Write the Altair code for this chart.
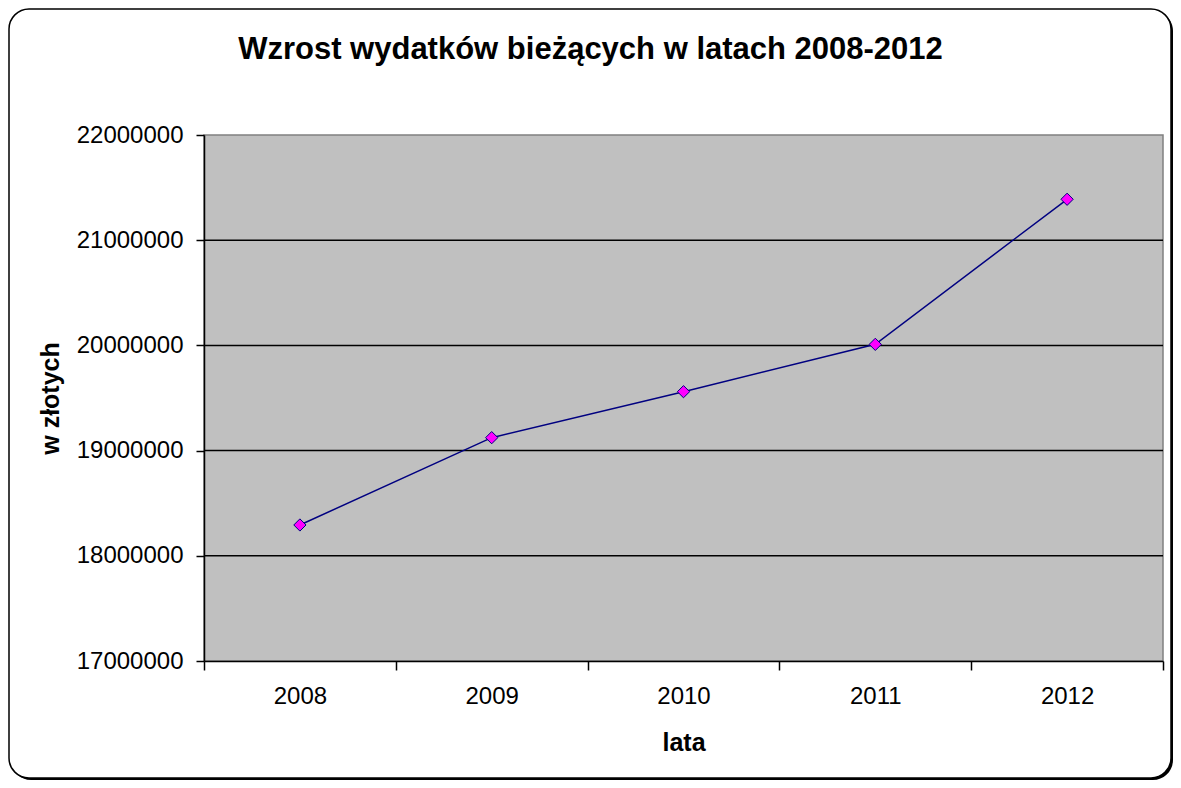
import altair as alt
import pandas as pd

years = ["2008", "2009", "2010", "2011", "2012"]
values = [18293000, 19123000, 19560000, 20010000, 21389000]
y_ticks = [17000000, 18000000, 19000000, 20000000, 21000000, 22000000]
grid_values = [18000000, 19000000, 20000000, 21000000]

title_text = "Wzrost wydatków bieżących w latach 2008-2012"
x_title = "lata"
y_title = "w złotych"

W, H = 959, 526
PAD_L, PAD_T, PAD_R, PAD_B = 196, 127, 10, 119
FONT = "Liberation Sans"

df = pd.DataFrame({"rok": years, "wartosc": values})
grid_df = pd.DataFrame({"wartosc": grid_values})
one = alt.Data(values=[{"a": 1}])

x_axis = alt.Axis(
    title=x_title,
    labelAngle=0,
    tickBand="extent",
    tickSize=9,
    tickColor="black",
    tickWidth=1.5,
    domainColor="black",
    domainWidth=1.5,
    labelFont=FONT,
    labelFontSize=24,
    labelColor="black",
    labelPadding=26,
    labelBaseline="middle",
    titleFont=FONT,
    titleFontSize=25,
    titleFontWeight="bold",
    titleColor="black",
    titleY=81,
    titleBaseline="middle",
    grid=False,
    zindex=2,
)
x_enc = alt.X(
    "rok:N",
    sort=None,
    scale=alt.Scale(type="band", paddingInner=0, paddingOuter=0),
    axis=x_axis,
)

y_scale = alt.Scale(domain=[17000000, 22000000], nice=False, zero=False)
y_axis = alt.Axis(
    title=y_title,
    values=y_ticks,
    format="d",
    tickSize=8,
    tickColor="black",
    tickWidth=1.5,
    domainColor="black",
    domainWidth=1.5,
    labelFont=FONT,
    labelFontSize=24,
    labelColor="black",
    labelPadding=13,
    titleFont=FONT,
    titleFontSize=25,
    titleFontWeight="bold",
    titleColor="black",
    titleX=-154,
    titleY=H / 2,
    titleBaseline="middle",
    titleAlign="center",
    grid=False,
    zindex=2,
)
y_enc = alt.Y("wartosc:Q", scale=y_scale, axis=y_axis)

shadow = alt.Chart(one).mark_rect(
    fill="black", cornerRadius=20
).encode(
    x=alt.value(-193), x2=alt.value(W + 10), y=alt.value(-124), y2=alt.value(H + 119)
)
frame = alt.Chart(one).mark_rect(
    fill="white", stroke="black", strokeWidth=1.5, cornerRadius=20
).encode(
    x=alt.value(-195), x2=alt.value(W + 8), y=alt.value(-126), y2=alt.value(H + 117)
)
title = alt.Chart(one).mark_text(
    text=title_text, font=FONT, fontSize=31, fontWeight="bold", color="black",
    align="center", baseline="middle"
).encode(x=alt.value(W / 2 - 93), y=alt.value(-85))
plot_bg = alt.Chart(one).mark_rect(
    fill="#C0C0C0", stroke="#808080", strokeWidth=1.5
).encode(
    x=alt.value(0), x2=alt.value(W), y=alt.value(0), y2=alt.value(H)
)
grid = alt.Chart(grid_df).mark_rule(color="black", strokeWidth=1.5).encode(
    y=y_enc
)
line = alt.Chart(df).mark_line(color="#000080", strokeWidth=1.5).encode(
    x=x_enc, y=y_enc
)
points = alt.Chart(df).mark_point(
    shape="diamond", filled=True, fill="#FF00FF", stroke="#000080",
    strokeWidth=1, size=150, opacity=1
).encode(x=x_enc, y=y_enc)

chart = alt.layer(shadow, frame, title, plot_bg, grid, line, points).properties(
    width=W,
    height=H,
    autosize=alt.AutoSizeParams(type="none"),
    padding={"left": PAD_L, "top": PAD_T, "right": PAD_R, "bottom": PAD_B},
).configure_view(stroke=None, fill=None)

chart.save("out.html", embed_options={"renderer": "svg", "actions": False})
